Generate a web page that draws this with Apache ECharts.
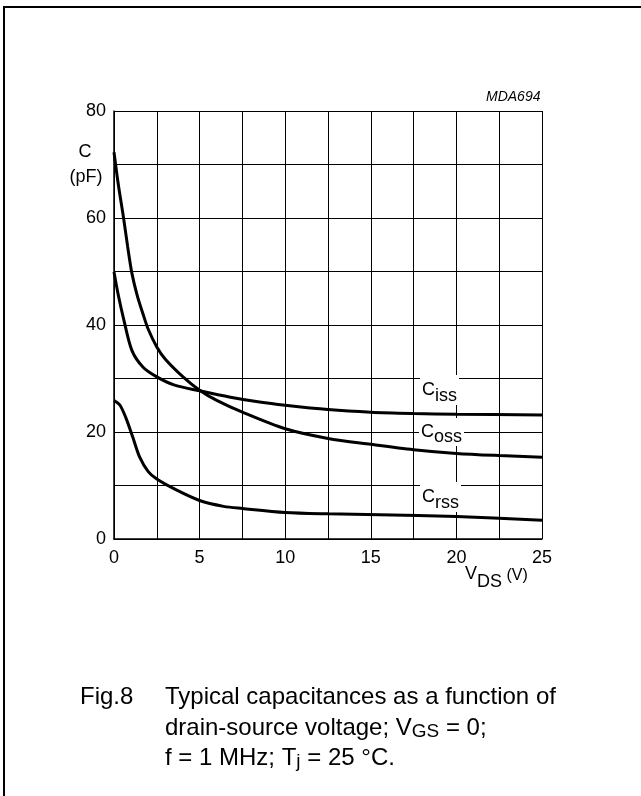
<!DOCTYPE html>
<html>
<head>
<meta charset="utf-8">
<script src="https://cdn.jsdelivr.net/npm/echarts@6/dist/echarts.min.js"></script>
<style>
html, body { margin: 0; padding: 0; background: #fff; }
#main { width: 641px; height: 796px; }
</style>
</head>
<body>
<div id="main"></div>
<script>
// values: [VDS (V), C (pF)]
var cissData = [[0, 49.9], [0.25, 45.6], [0.55, 41.3], [1.05, 35.2], [1.7, 32.1], [2.5, 30.3], [3.5, 28.8], [5, 27.7], [6.8, 26.5], [8.5, 25.6], [10, 25.0], [12.5, 24.2], [15, 23.7], [17.5, 23.45], [20, 23.3], [25, 23.2]];
var cossData = [[0, 72.3], [0.25, 66.3], [0.55, 60.2], [0.8, 54.6], [1.05, 49.6], [1.35, 45.6], [1.7, 42.0], [2, 39.2], [2.5, 35.9], [3, 33.6], [4, 30.4], [5, 27.8], [6, 25.9], [7.5, 23.7], [10, 20.6], [12.5, 18.8], [15, 17.7], [17.5, 16.7], [20, 16.0], [22.5, 15.6], [25, 15.3]];
var crssData = [[0, 25.9], [0.35, 25.0], [0.7, 22.6], [1.1, 19.0], [1.5, 15.3], [2, 12.6], [2.5, 11.2], [3.5, 9.4], [5, 7.2], [6.4, 6.1], [7.5, 5.7], [10, 4.95], [12.5, 4.7], [15.5, 4.55], [20, 4.2], [25, 3.5]];
var xTicks = [0, 5, 10, 15, 20, 25];
var yTicks = [0, 20, 40, 60, 80];

var FONT = '"Liberation Sans", Arial, sans-serif';
var chart = echarts.init(document.getElementById('main'));

function curve(name, data) {
    return {
        name: name,
        type: 'line',
        data: data,
        smooth: 0.3,
        symbol: 'none',
        lineStyle: { color: '#000', width: 3 }
    };
}

chart.setOption({
    backgroundColor: '#fff',
    animation: false,
    grid: { left: 114, right: 99, top: 111, bottom: 257 },
    xAxis: {
        type: 'value',
        min: 0,
        max: 25,
        interval: 2.5,
        axisLine: { lineStyle: { color: '#000', width: 1.5 } },
        axisTick: { show: false },
        axisLabel: {
            margin: 10,
            color: '#000',
            fontSize: 18,
            fontFamily: FONT,
            formatter: function (v) { return xTicks.indexOf(v) >= 0 ? String(v) : ''; }
        },
        splitLine: { show: true, lineStyle: { color: '#000', width: 1 } }
    },
    yAxis: {
        type: 'value',
        min: 0,
        max: 80,
        interval: 10,
        axisLine: { show: true, lineStyle: { color: '#000', width: 1.5 } },
        axisTick: { show: false },
        axisLabel: {
            margin: 8,
            color: '#000',
            fontSize: 18,
            fontFamily: FONT,
            formatter: function (v) { return yTicks.indexOf(v) >= 0 ? String(v) : ''; }
        },
        splitLine: { show: true, lineStyle: { color: '#000', width: 1 } }
    },
    series: [
        curve('Ciss', cissData),
        curve('Coss', cossData),
        curve('Crss', crssData)
    ],
    graphic: [
        // page frame
        { type: 'rect', shape: { x: 4, y: 7, width: 700, height: 900 }, style: { fill: 'none', stroke: '#000', lineWidth: 2 }, silent: true },
        { type: 'text', left: 486, top: 90, style: { text: 'MDA694', font: 'italic 14px ' + FONT, fill: '#000' } },
        { type: 'text', x: 85, y: 152, style: { text: 'C', font: '18px ' + FONT, fill: '#000', textAlign: 'center', textVerticalAlign: 'middle' } },
        { type: 'text', x: 86, y: 177, style: { text: '(pF)', font: '18px ' + FONT, fill: '#000', textAlign: 'center', textVerticalAlign: 'middle' } },
        {
            type: 'text', x: 465, y: 574, z: 10,
            style: {
                text: '{a|V}{b|DS}{c| (V)}', textVerticalAlign: 'middle', fill: '#000',
                rich: {
                    a: { fontSize: 18, fontFamily: FONT },
                    b: { fontSize: 18, fontFamily: FONT, padding: [16, 0, 0, 0] },
                    c: { fontSize: 16, fontFamily: FONT, padding: [4, 0, 0, 0] }
                }
            }
        },
        {
            type: 'text', x: 420, y: 390, z: 10,
            style: {
                text: '{a|C}{b|iss}', textVerticalAlign: 'middle', fill: '#000', backgroundColor: '#fff', padding: [0, 2],
                rich: { a: { fontSize: 18, fontFamily: FONT }, b: { fontSize: 18, fontFamily: FONT, padding: [12, 0, 0, 0] } }
            }
        },
        {
            type: 'text', x: 419, y: 432, z: 10,
            style: {
                text: '{a|C}{b|oss}', textVerticalAlign: 'middle', fill: '#000', backgroundColor: '#fff', padding: [0, 2],
                rich: { a: { fontSize: 18, fontFamily: FONT }, b: { fontSize: 18, fontFamily: FONT, padding: [10, 0, 0, 0] } }
            }
        },
        {
            type: 'text', x: 420, y: 497, z: 10,
            style: {
                text: '{a|C}{b|rss}', textVerticalAlign: 'middle', fill: '#000', backgroundColor: '#fff', padding: [0, 2],
                rich: { a: { fontSize: 18, fontFamily: FONT }, b: { fontSize: 18, fontFamily: FONT, padding: [12, 0, 0, 0] } }
            }
        },
        // caption
        { type: 'text', x: 80, y: 697, style: { text: 'Fig.8', font: '24px ' + FONT, fill: '#000', textVerticalAlign: 'middle' } },
        { type: 'text', x: 165, y: 697, style: { text: 'Typical capacitances as a function of', font: '24px ' + FONT, fill: '#000', textVerticalAlign: 'middle' } },
        {
            type: 'text', x: 165, y: 728,
            style: {
                text: '{a|drain-source voltage; V}{b|GS}{a| = 0;}', textVerticalAlign: 'middle', fill: '#000',
                rich: { a: { fontSize: 24, fontFamily: FONT }, b: { fontSize: 19, fontFamily: FONT, padding: [8, 0, 0, 0] } }
            }
        },
        {
            type: 'text', x: 165, y: 758,
            style: {
                text: '{a|f = 1 MHz; T}{b|j}{a| = 25 \u00B0C.}', textVerticalAlign: 'middle', fill: '#000',
                rich: { a: { fontSize: 24, fontFamily: FONT }, b: { fontSize: 19, fontFamily: FONT, padding: [8, 0, 0, 0] } }
            }
        }
    ]
});
</script>
</body>
</html>
